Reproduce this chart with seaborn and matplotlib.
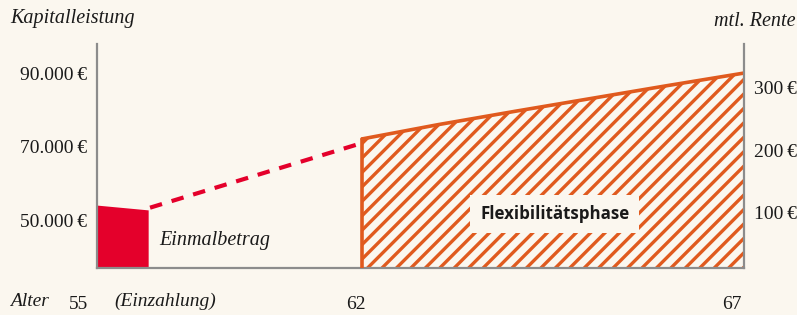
import numpy as np
import pandas as pd
import seaborn as sns
import matplotlib.pyplot as plt
import matplotlib.transforms as mtransforms
from matplotlib.scale import FuncScale

# data
tick_ages = [55, 62, 67]
tick_pos = [0.0, 0.41, 1.0]          # the age axis is schematic, not linear
left_ticks = [50000, 70000, 90000]
left_labels = ["50.000\u2009€", "70.000\u2009€", "90.000\u2009€"]
right_ticks = [100, 200, 300]
right_labels = ["100\u2009€", "200\u2009€", "300\u2009€"]

block_age = [55, 56.35]
block_val = [54100, 52800]
dash_age = [56.4, 62]
dash_val = [53400, 71000]
phase_age = [62, 63, 64, 65, 66, 67]
phase_val = [72100, 76000, 79600, 83100, 86600, 90000]

BASE = 37000
TOP = 97900

BG = "#fbf7ef"
RED = "#e4002b"
ORANGE = "#e05a1e"
GREY = "#8c8c8c"
INK = "#1a1a1a"

# render at a higher dpi so the hatch gets wider spacing; sizes scaled back by K
DPI = 130
K = 100 / DPI

sns.set_theme(style="white", rc={"figure.facecolor": BG, "axes.facecolor": BG,
                                 "hatch.linewidth": 2.4 * K})
plt.rcParams["font.family"] = ["Liberation Serif", "DejaVu Serif"]

fig = plt.figure(figsize=(797 / DPI, 315 / DPI), dpi=DPI)
ax = fig.add_axes([97 / 797, 1 - 268 / 315, 647 / 797, 224 / 315])


def fwd(a):
    return np.interp(a, tick_ages, tick_pos)


def inv(p):
    return np.interp(p, tick_pos, tick_ages)


ax.set_xscale(FuncScale(ax, (fwd, inv)))
ax.set_xlim(55, 67)
ax.set_ylim(BASE, TOP)

# single payment block
ax.fill_between(block_age, block_val, BASE, color=RED, lw=0, zorder=2)

# dashed growth line
dash_df = pd.DataFrame({"age": dash_age, "val": dash_val})
sns.lineplot(data=dash_df, x="age", y="val", ax=ax, color=RED, lw=3 * K,
             dashes=False, zorder=3)
ax.lines[-1].set_dashes((3, 2.4))

# flexible phase, hatched
ax.fill_between(phase_age, phase_val, BASE, facecolor="none", edgecolor=ORANGE,
                hatch="///", lw=0, zorder=2)
phase_df = pd.DataFrame({"age": phase_age, "val": phase_val})
sns.lineplot(data=phase_df, x="age", y="val", ax=ax, color=ORANGE, lw=2.6 * K, zorder=3)
ax.plot([phase_age[0], phase_age[0]], [BASE, phase_val[0]], color=ORANGE,
        lw=2.6 * K, zorder=3)

ax.text(64.52, 51600, "Flexibilitätsphase", family=["Open Sans", "DejaVu Sans"],
        fontweight="bold", fontsize=12.2 * K, ha="center", va="center", zorder=5,
        color=INK, bbox=dict(boxstyle="square,pad=0.6", fc=BG, ec="none"))
ax.text(56.65, 44400, "Einmalbetrag", fontstyle="italic", fontsize=14.5 * K,
        ha="left", va="center", color=INK)

# axes styling
for s in ["top", "right"]:
    ax.spines[s].set_visible(False)
for s in ["left", "bottom"]:
    ax.spines[s].set_color(GREY)
    ax.spines[s].set_linewidth(1.6 * K)

ax.set_xticks(tick_ages)
ax.set_xticklabels([str(a) for a in tick_ages], ha="right")
ax.tick_params(axis="x", length=4 * K, width=1.4 * K, color=GREY, direction="inout",
               pad=18 * K, labelsize=14 * K, labelcolor=INK)
# nudge the age labels the way the hand-set original has them
for lab, dx in zip(ax.get_xticklabels(), [-7, 3, -2]):
    lab.set_transform(lab.get_transform() +
                      mtransforms.ScaledTranslation(dx / 100, 0, fig.dpi_scale_trans))
ax.set_yticks(left_ticks)
ax.set_yticklabels(left_labels)
ax.tick_params(axis="y", length=0, pad=7 * K, labelsize=14 * K, labelcolor=INK)
ax.set_xlabel("")
ax.set_ylabel("")

ax2 = ax.twinx()
ax2.set_ylim(11, 370)
ax2.set_yticks(right_ticks)
ax2.set_yticklabels(right_labels)
ax2.tick_params(axis="y", length=0, pad=7 * K, labelsize=14 * K, labelcolor=INK)
for s in ["top", "left", "bottom"]:
    ax2.spines[s].set_visible(False)
ax2.spines["right"].set_color(GREY)
ax2.spines["right"].set_linewidth(1.6 * K)

fig.text(10 / 797, 1 - 19 / 315, "Kapitalleistung", fontstyle="italic",
         fontsize=14.5 * K, ha="left", va="center", color=INK)
fig.text(796 / 797, 1 - 22 / 315, "mtl. Rente", fontstyle="italic",
         fontsize=14.5 * K, ha="right", va="center", color=INK)
fig.text(10 / 797, 1 - 301 / 315, "Alter", fontstyle="italic",
         fontsize=14 * K, ha="left", va="center", color=INK)
fig.text(114 / 797, 1 - 301 / 315, "(Einzahlung)", fontstyle="italic",
         fontsize=14 * K, ha="left", va="center", color=INK)

fig.savefig("out.png", dpi=DPI, facecolor=BG)
